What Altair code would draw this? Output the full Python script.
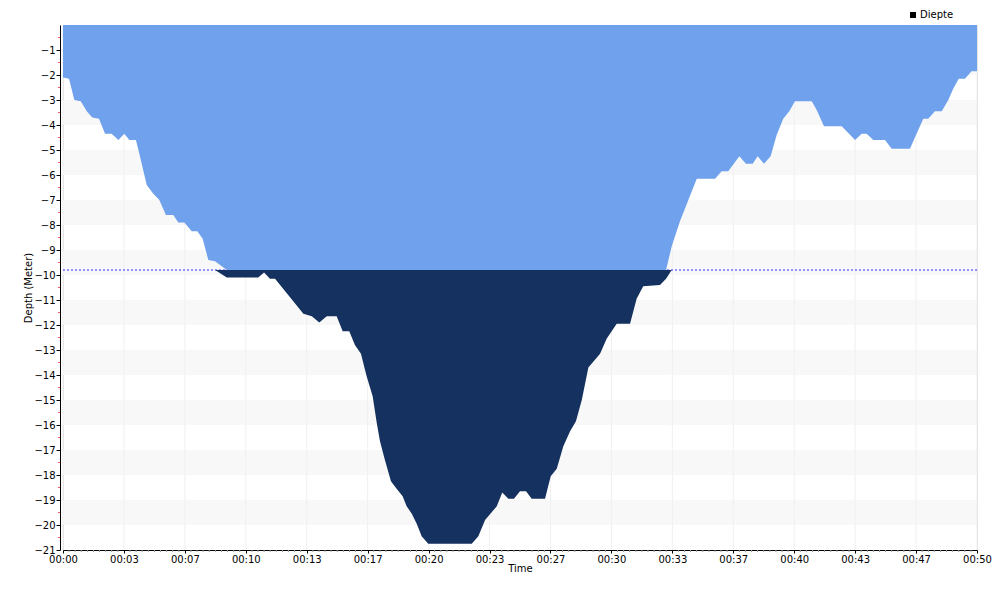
import altair as alt
import pandas as pd

# Dive profile: time (minutes) and depth (meters, negative = below surface)
times = [0.0, 0.33, 0.62, 0.97, 1.30, 1.60, 1.97, 2.30, 2.66, 3.03, 3.35, 3.63, 3.99,
         4.21, 4.58, 4.94, 5.27, 5.63, 6.03, 6.31, 6.64, 7.04, 7.35, 7.64, 7.95, 8.32,
         8.96, 10.68, 11.0, 11.32, 11.60, 13.15, 13.61, 14.02, 14.43, 14.97, 15.30,
         15.66, 15.97, 16.30, 16.61, 16.94, 17.16, 17.34, 17.61, 17.94, 18.25, 18.58,
         18.80, 19.08, 19.35, 19.62, 19.98, 22.36, 22.72, 23.09, 23.73, 24.03, 24.36,
         24.67, 25.0, 25.33, 25.64, 26.37, 26.68, 27.01, 27.37, 27.74, 28.06, 28.38,
         28.74, 29.38, 29.74, 30.29, 31.02, 31.38, 31.74, 32.66, 32.99, 33.30, 33.75,
         34.21, 34.67, 35.67, 36.03, 36.39, 37.0, 37.36, 37.73, 38.0, 38.35, 38.71,
         39.04, 39.40, 39.73, 40.04, 40.96, 41.23, 41.63, 42.60, 43.33, 43.69, 43.96,
         44.33, 44.97, 45.33, 46.33, 47.06, 47.33, 47.70, 48.07, 48.43, 48.70, 49.0,
         49.34, 49.70, 50.0]
depths = [-2.1, -2.15, -3.0, -3.05, -3.45, -3.7, -3.75, -4.35, -4.35, -4.6, -4.35, -4.6, -4.6,
          -5.25, -6.4, -6.75, -7.0, -7.6, -7.6, -7.9, -7.9, -8.25, -8.25, -8.55, -9.4, -9.45,
          -10.1, -10.1, -9.9, -10.15, -10.15, -11.55, -11.65, -11.9, -11.65, -11.65, -12.25,
          -12.25, -12.8, -13.15, -14.05, -14.85, -15.9, -16.65, -17.4, -18.25, -18.55, -18.85,
          -19.25, -19.55, -19.95, -20.45, -20.75, -20.75, -20.45, -19.8, -19.25, -18.7, -18.95,
          -18.95, -18.65, -18.65, -18.95, -18.95, -18.05, -17.75, -16.85, -16.25, -15.85, -15.0,
          -13.7, -13.15, -12.55, -11.95, -11.95, -10.95, -10.45, -10.4, -10.15, -8.85, -7.85,
          -7.0, -6.15, -6.15, -5.85, -5.85, -5.25, -5.55, -5.55, -5.25, -5.55, -5.25,
          -4.4, -3.75, -3.45, -3.05, -3.05, -3.4, -4.05, -4.05, -4.6, -4.35, -4.35,
          -4.6, -4.6, -4.95, -4.95, -3.75, -3.75, -3.45, -3.45, -3.0, -2.55, -2.15,
          -2.15, -1.85, -1.85]

threshold = [-9.8]
series_name = ["Diepte"]

major_x = [i * 50 / 15 for i in range(16)]
minor_x = [i * 5 / 15 for i in range(151) if i % 10 != 0]
y_ticks = list(range(-21, 0))
minor_y = [-0.5 - i for i in range(21)]
band_top = [-1, -3, -5, -7, -9, -11, -13, -15, -17, -19]
band_bottom = [-2, -4, -6, -8, -10, -12, -14, -16, -18, -20]

df = pd.DataFrame({"t": times, "depth": depths})
TH = threshold[0]

x_scale = alt.Scale(domain=[0, 50], nice=False, zero=False)
y_scale = alt.Scale(domain=[-21, 0], nice=False, zero=False)

FONT = "DejaVu Sans"

x_axis = alt.Axis(
    values=major_x, tickCount=40,
    labelExpr="'00:' + (round(datum.value) < 10 ? '0' : '') + round(datum.value)",
    tickSize=3, tickColor="black", domainColor="black", labelColor="black",
    grid=False, labelPadding=1, titlePadding=-1, labelFlush=False, labelOverlap=False,
    labelFont=FONT, labelFontSize=10, titleFont=FONT, titleFontSize=10,
    titleFontWeight="normal", titleColor="black",
)
y_axis = alt.Axis(
    values=y_ticks, tickCount=40, format="d", offset=3, tickSize=4, tickColor="black",
    domainColor="black", labelColor="black", grid=False, labelPadding=1,
    titlePadding=0, labelOverlap=False, labelFlush=False,
    labelFont=FONT, labelFontSize=10, titleFont=FONT, titleFontSize=10,
    titleFontWeight="normal", titleColor="black",
)

bands = alt.Chart(pd.DataFrame({"b0": band_top, "b1": band_bottom})).mark_rect(
    color="#f8f8f8"
).encode(
    y=alt.Y("b0:Q", scale=y_scale, axis=y_axis, title="Depth (Meter)"),
    y2="b1:Q",
)

vgrid = alt.Chart(pd.DataFrame({"g": major_x})).mark_rule(
    color="#f0f0f0", strokeWidth=1
).encode(x=alt.X("g:Q", scale=x_scale, axis=x_axis, title="Time"))

thresh = alt.Chart(pd.DataFrame({"d": threshold})).mark_rule(
    color="#2f2fff", strokeDash=[2, 2], strokeWidth=1
).encode(y=alt.Y("d:Q", scale=y_scale))

light = alt.Chart(df).transform_calculate(
    top=f"max(datum.depth, {TH})", zero="0"
).mark_area(color="#6FA1ED", interpolate="linear").encode(
    x=alt.X("t:Q", scale=x_scale),
    y=alt.Y("top:Q", scale=y_scale),
    y2="zero:Q",
)

dark = alt.Chart(df).transform_calculate(
    bot=f"min(datum.depth, {TH})", th=f"{TH}"
).mark_area(color="#15315F", interpolate="linear").encode(
    x=alt.X("t:Q", scale=x_scale),
    y=alt.Y("bot:Q", scale=y_scale),
    y2="th:Q",
)

minor_x_layer = alt.Chart(pd.DataFrame({"m": minor_x})).mark_rule(
    color="#9a9a9a", strokeWidth=1
).encode(
    x=alt.X("m:Q", scale=x_scale),
    y=alt.value(525), y2=alt.value(527),
)

minor_y_layer = alt.Chart(pd.DataFrame({"m": minor_y})).mark_rule(
    color="#ff5a5a", strokeWidth=1
).encode(
    y=alt.Y("m:Q", scale=y_scale),
    x=alt.value(-5), x2=alt.value(-3),
)

legend_layer = alt.Chart(pd.DataFrame({"s": series_name})).mark_square(opacity=0).encode(
    color=alt.Color(
        "s:N",
        scale=alt.Scale(domain=series_name, range=["black"]),
        legend=alt.Legend(
            orient="none", legendX=845, legendY=-15, title=None,
            symbolType="square", symbolSize=36, symbolOpacity=1,
            labelFont=FONT, labelFontSize=10, labelColor="black",
            padding=0, labelOffset=2,
        ),
    ),
    x=alt.value(0), y=alt.value(0),
)

chart = alt.layer(
    bands, vgrid, thresh, light, dark, minor_x_layer, minor_y_layer, legend_layer
).properties(
    width=914, height=525,
    padding={"left": 55, "top": 17, "right": 15, "bottom": 40},
    autosize=alt.AutoSizeParams(type="none"),
).configure_view(stroke=None).configure(background="white")

chart.save("out.html", embed_options={"renderer": "svg", "actions": False})
